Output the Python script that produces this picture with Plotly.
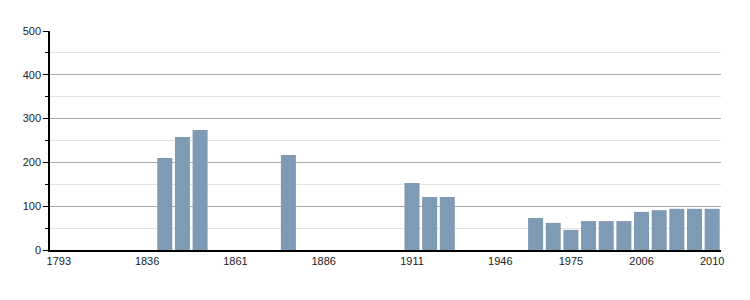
import plotly.graph_objects as go

years = ["1793","1800","1806","1821","1831","1836","1841","1846","1851","1856",
         "1861","1866","1872","1876","1881","1886","1891","1896","1901","1906",
         "1911","1921","1926","1931","1936","1946","1954","1962","1968","1975",
         "1982","1990","1999","2006","2007","2008","2009","2010"]
population = [None,None,None,None,None,None,210,258,274,None,
              None,None,None,217,None,None,None,None,None,None,
              153,121,121,None,None,None,None,73,62,46,
              66,66,66,87,91,94,94,94]
tick_labels = ["1793","1836","1861","1886","1911","1946","1975","2006","2010"]

fig = go.Figure(go.Bar(x=years, y=population, marker_color="#7f9ab4",
                       marker_line_width=0))
fig.update_layout(
    width=750, height=300,
    margin=dict(l=50, r=29, t=31, b=50),
    plot_bgcolor="white", paper_bgcolor="white",
    bargap=0.15, showlegend=False,
    font=dict(family="Liberation Sans, Arial, sans-serif", size=11, color="#222222"),
)
fig.update_xaxes(type="category", categoryorder="array", categoryarray=years,
                 tickmode="array", tickvals=tick_labels, ticktext=tick_labels,
                 showline=True, linecolor="black", linewidth=2,
                 tickfont=dict(color="#222222", size=11),
                 ticks="", showgrid=False, tickangle=0)
fig.update_yaxes(range=[0, 500], dtick=100, showline=True, linecolor="black",
                 linewidth=1.5, ticks="outside", ticklen=5, tickcolor="black",
                 tickfont=dict(color="#222222", size=11),
                 gridcolor="#aaaaaa", gridwidth=1, zeroline=False,
                 minor=dict(dtick=50, showgrid=True, gridcolor="#e3e3e3",
                            ticks="outside", ticklen=3, tickcolor="black"))
fig.write_html("out.html")
